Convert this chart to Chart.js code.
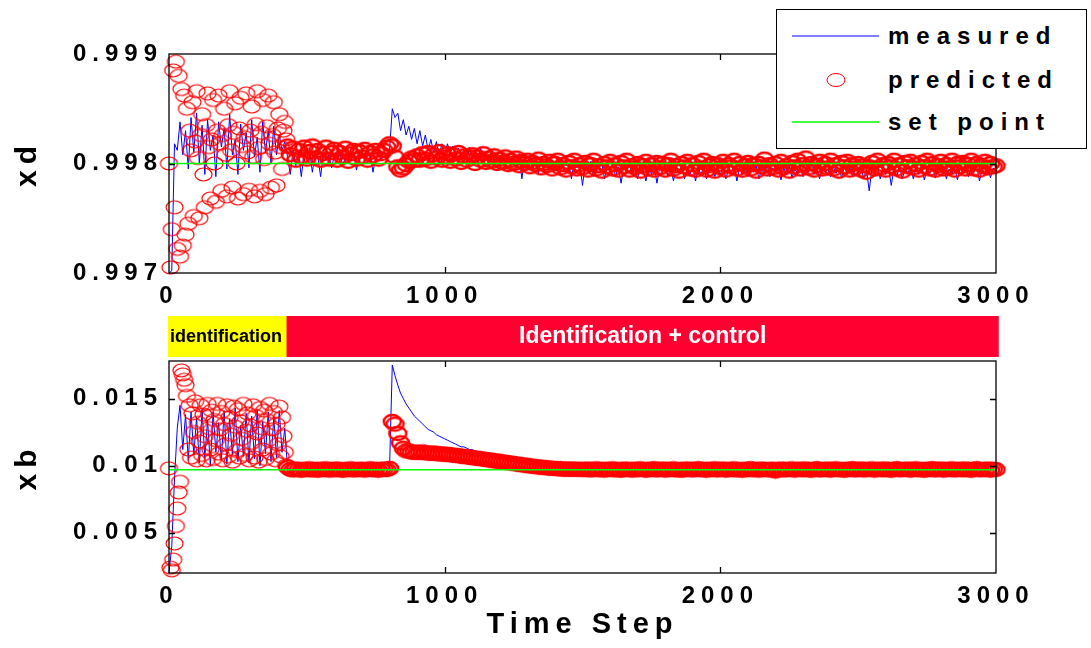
<!DOCTYPE html>
<html><head><meta charset="utf-8">
<script src="https://cdn.jsdelivr.net/npm/chart.js@4/dist/chart.umd.min.js"></script>
<style>
html,body{margin:0;padding:0;background:#fff;}
#wrap{position:relative;width:1091px;height:648px;overflow:hidden;background:#fff;}
#wrap canvas{position:absolute;left:0;top:0;}
#legend{position:absolute;left:776px;top:9px;width:309px;height:138px;border:1.5px solid #000;background:#fff;
 font-family:"Liberation Sans",Arial,sans-serif;font-weight:bold;font-size:24px;letter-spacing:7px;color:#000;}
.lrow{position:absolute;left:0;width:100%;height:30px;}
.lrow svg{position:absolute;left:15px;top:0;}
.lrow span{position:absolute;left:111px;top:0;line-height:30px;}
</style></head>
<body><div id="wrap">
<canvas id="top" width="1091" height="648"></canvas>
<canvas id="bot" width="1091" height="648"></canvas>
<div id="legend">
 <div class="lrow" style="top:11px"><svg width="88" height="30"><line x1="0" y1="15" x2="87" y2="15" stroke="#0000ff" stroke-width="1"/></svg><span>measured</span></div>
 <div class="lrow" style="top:55px"><svg width="88" height="30"><ellipse cx="44" cy="15" rx="9" ry="6.5" fill="none" stroke="#ff0000" stroke-width="1"/></svg><span>predicted</span></div>
 <div class="lrow" style="top:97px"><svg width="88" height="30"><line x1="0" y1="15" x2="87" y2="15" stroke="#44ff44" stroke-width="2"/></svg><span>set point</span></div>
</div>
</div>
<script>
// ---------------- data ----------------
const STEP = 10;        // measured series: one stored sample every 10 time steps, t = 0 .. 3000
const ID_STEP = 5;      // predicted, identification phase: every 5 steps, t = 0 .. 425
const CTRL_START = 430; // predicted, control phase: every 10 steps, t = 430 .. 3000

const xdMeasured = [
0.99700,0.99702,0.99818,0.99812,0.99838,0.99808,0.99830,0.99795,0.99842,0.99810,
0.99846,0.99800,0.99835,0.99790,0.99840,0.99812,0.99826,0.99788,0.99838,0.99815,
0.99832,0.99795,0.99845,0.99808,0.99822,0.99790,0.99836,0.99812,0.99828,0.99796,
0.99840,0.99806,0.99824,0.99792,0.99838,0.99810,0.99830,0.99800,0.99834,0.99808,
0.99826,0.99812,0.99820,0.99806,0.99790,0.99812,0.99798,0.99808,0.99788,0.99810,
0.99804,0.99812,0.99792,0.99808,0.99806,0.99788,0.99810,0.99803,0.99808,0.99796,
0.99808,0.99804,0.99810,0.99798,0.99806,0.99808,0.99802,0.99810,0.99794,0.99806,
0.99808,0.99803,0.99806,0.99810,0.99792,0.99806,0.99808,0.99804,0.99806,0.99805,
0.99812,0.99850,0.99842,0.99846,0.99830,0.99840,0.99826,0.99834,0.99822,0.99832,
0.99818,0.99830,0.99816,0.99826,0.99812,0.99822,0.99810,0.99820,0.99808,0.99818,
0.99806,0.99818,0.99810,0.99816,0.99804,0.99814,0.99808,0.99812,0.99802,0.99815,
0.99806,0.99812,0.99800,0.99814,0.99804,0.99810,0.99798,0.99812,0.99804,0.99808,
0.99800,0.99810,0.99796,0.99808,0.99803,0.99806,0.99798,0.99809,0.99786,0.99804,
0.99802,0.99806,0.99796,0.99804,0.99790,0.99806,0.99800,0.99804,0.99794,0.99802,
0.99798,0.99804,0.99792,0.99802,0.99798,0.99800,0.99786,0.99802,0.99796,0.99800,
0.99780,0.99800,0.99794,0.99802,0.99788,0.99798,0.99796,0.99800,0.99786,0.99798,
0.99794,0.99800,0.99788,0.99797,0.99782,0.99798,0.99792,0.99800,0.99790,0.99796,
0.99786,0.99798,0.99794,0.99784,0.99797,0.99790,0.99798,0.99782,0.99796,0.99792,
0.99798,0.99788,0.99796,0.99784,0.99797,0.99792,0.99798,0.99786,0.99795,0.99790,
0.99798,0.99784,0.99796,0.99790,0.99797,0.99786,0.99794,0.99798,0.99788,0.99796,
0.99790,0.99797,0.99786,0.99795,0.99792,0.99798,0.99784,0.99796,0.99790,0.99797,
0.99788,0.99796,0.99792,0.99798,0.99786,0.99795,0.99790,0.99798,0.99788,0.99796,
0.99792,0.99797,0.99785,0.99796,0.99790,0.99798,0.99787,0.99795,0.99791,0.99797,
0.99788,0.99796,0.99792,0.99805,0.99790,0.99796,0.99786,0.99797,0.99792,0.99795,
0.99788,0.99797,0.99791,0.99796,0.99787,0.99798,0.99790,0.99796,0.99788,0.99795,
0.99792,0.99797,0.99786,0.99795,0.99775,0.99796,0.99790,0.99798,0.99786,0.99795,
0.99790,0.99797,0.99780,0.99796,0.99788,0.99798,0.99786,0.99795,0.99791,0.99797,
0.99786,0.99796,0.99790,0.99798,0.99785,0.99795,0.99791,0.99797,0.99787,0.99796,
0.99792,0.99798,0.99786,0.99795,0.99790,0.99797,0.99785,0.99796,0.99791,0.99797,
0.99788,0.99796,0.99792,0.99798,0.99784,0.99795,0.99790,0.99797,0.99787,0.99796,
0.99792];

const xdPredictedId = [
0.99800,0.99705,0.99740,0.99885,0.99760,0.99893,0.99722,0.99880,0.99715,0.99868,
0.99725,0.99862,0.99735,0.99850,0.99745,0.99830,0.99812,0.99856,0.99752,0.99820,
0.99866,0.99805,0.99750,0.99826,0.99845,0.99790,0.99760,0.99835,0.99864,0.99815,
0.99768,0.99822,0.99858,0.99800,0.99765,0.99830,0.99862,0.99818,0.99775,0.99826,
0.99850,0.99808,0.99770,0.99835,0.99866,0.99812,0.99778,0.99828,0.99855,0.99800,
0.99768,0.99832,0.99860,0.99816,0.99772,0.99824,0.99864,0.99810,0.99776,0.99830,
0.99852,0.99806,0.99770,0.99836,0.99866,0.99814,0.99775,0.99828,0.99858,0.99804,
0.99772,0.99834,0.99862,0.99818,0.99778,0.99826,0.99856,0.99810,0.99780,0.99832,
0.99845,0.99815,0.99795,0.99830,0.99838,0.99822];

const xdPredictedCtrl = [
0.99816,0.99808,0.99814,0.99803,0.99812,0.99806,0.99815,
0.99804,0.99811,0.99816,0.99805,0.99812,0.99803,0.99809,0.99815,0.99804,0.99810,
0.99813,0.99803,0.99810,0.99806,0.99814,0.99802,0.99809,0.99812,0.99804,0.99811,
0.99806,0.99813,0.99803,0.99810,0.99807,0.99812,0.99804,0.99809,0.99812,0.99815,
0.99818,0.99816,0.99806,0.99797,0.99794,0.99796,0.99799,0.99802,0.99805,0.99803,
0.99807,0.99803,0.99809,0.99804,0.99810,0.99802,0.99808,0.99805,0.99811,0.99803,
0.99806,0.99809,0.99802,0.99808,0.99804,0.99810,0.99801,0.99807,0.99803,0.99806,
0.99808,0.99800,0.99806,0.99803,0.99809,0.99801,0.99805,0.99802,0.99807,0.99800,
0.99804,0.99801,0.99806,0.99799,0.99803,0.99800,0.99805,0.99798,0.99802,0.99800,
0.99803,0.99797,0.99801,0.99799,0.99804,0.99796,0.99800,0.99798,0.99802,0.99795,
0.99800,0.99803,0.99796,0.99799,0.99794,0.99801,0.99797,0.99803,0.99795,0.99799,
0.99796,0.99801,0.99794,0.99799,0.99803,0.99795,0.99798,0.99793,0.99800,0.99797,
0.99802,0.99795,0.99799,0.99794,0.99801,0.99797,0.99803,0.99794,0.99798,0.99796,
0.99800,0.99793,0.99798,0.99802,0.99795,0.99799,0.99794,0.99801,0.99796,0.99800,
0.99794,0.99799,0.99803,0.99795,0.99798,0.99793,0.99800,0.99797,0.99802,0.99795,
0.99799,0.99794,0.99801,0.99796,0.99803,0.99794,0.99798,0.99800,0.99793,0.99799,
0.99796,0.99802,0.99794,0.99799,0.99797,0.99803,0.99795,0.99800,0.99794,0.99798,
0.99801,0.99795,0.99799,0.99793,0.99800,0.99797,0.99804,0.99795,0.99799,0.99796,
0.99800,0.99794,0.99802,0.99796,0.99798,0.99793,0.99801,0.99797,0.99803,0.99795,
0.99799,0.99805,0.99796,0.99800,0.99794,0.99798,0.99802,0.99795,0.99800,0.99796,
0.99803,0.99795,0.99799,0.99793,0.99801,0.99797,0.99802,0.99794,0.99799,0.99796,
0.99800,0.99794,0.99798,0.99792,0.99797,0.99801,0.99795,0.99803,0.99796,0.99799,
0.99794,0.99800,0.99797,0.99803,0.99795,0.99799,0.99793,0.99801,0.99797,0.99802,
0.99796,0.99799,0.99794,0.99801,0.99797,0.99803,0.99795,0.99800,0.99794,0.99798,
0.99802,0.99795,0.99799,0.99796,0.99803,0.99794,0.99800,0.99797,0.99801,0.99795,
0.99799,0.99803,0.99795,0.99800,0.99794,0.99798,0.99802,0.99796,0.99800,0.99797,
0.99798];

const xbMeasured = [
0.0020,0.0040,0.0090,0.0128,0.0145,0.0112,0.0138,0.0104,0.0140,0.0108,
0.0136,0.0102,0.0142,0.0106,0.0134,0.0100,0.0140,0.0110,0.0132,0.0104,
0.0141,0.0101,0.0135,0.0108,0.0143,0.0103,0.0130,0.0107,0.0139,0.0102,
0.0137,0.0105,0.0142,0.0100,0.0133,0.0109,0.0140,0.0103,0.0136,0.0106,
0.0141,0.0110,0.0128,0.0098,0.0097,0.0097,0.0097,0.0097,0.0097,0.0097,
0.0097,0.0097,0.0097,0.0097,0.0097,0.0097,0.0097,0.0097,0.0097,0.0097,
0.0097,0.0097,0.0097,0.0097,0.0097,0.0097,0.0097,0.0097,0.0097,0.0097,
0.0097,0.0097,0.0097,0.0097,0.0097,0.0097,0.0097,0.0097,0.0097,0.0097,
0.0098,0.0175,0.0167,0.0160,0.0154,0.0150,0.0146,0.0143,0.0140,0.0137,
0.0135,0.0133,0.0131,0.0129,0.0127,0.0126,0.0125,0.0123,0.0122,0.0121,
0.0120,0.0119,0.0118,0.0117,0.0116,0.0115,0.0114,0.0114,0.0113,0.0112,
0.0112,0.0111,0.0110,0.0110,0.0109,0.0108,0.0108,0.0107,0.0107,0.0106,
0.0106,0.0105,0.0105,0.0104,0.0104,0.0103,0.0103,0.0102,0.0102,0.0102,
0.0101,0.0101,0.0101,0.0100,0.0100,0.0100,0.0100,0.0099,0.0099,0.0099,
0.0099,0.0099,0.0099,0.0098,0.0098,0.0098,0.0098,0.0098,0.0098,0.0098,
0.0098,0.0098,0.0097,0.0098,0.0098,0.0097,0.0098,0.0097,0.0098,0.0097,
0.0097,0.0098,0.0097,0.0097,0.0098,0.0097,0.0097,0.0098,0.0097,0.0097,
0.0097,0.0097,0.0098,0.0097,0.0097,0.0097,0.0098,0.0097,0.0097,0.0097,
0.0098,0.0097,0.0097,0.0097,0.0097,0.0098,0.0097,0.0097,0.0097,0.0097,
0.0097,0.0097,0.0097,0.0098,0.0097,0.0097,0.0097,0.0097,0.0098,0.0097,
0.0097,0.0097,0.0097,0.0097,0.0097,0.0098,0.0097,0.0097,0.0097,0.0097,
0.0098,0.0097,0.0097,0.0097,0.0097,0.0097,0.0097,0.0098,0.0097,0.0097,
0.0097,0.0097,0.0097,0.0097,0.0098,0.0097,0.0097,0.0097,0.0097,0.0097,
0.0097,0.0098,0.0097,0.0097,0.0097,0.0097,0.0097,0.0097,0.0098,0.0097,
0.0097,0.0097,0.0097,0.0098,0.0097,0.0097,0.0097,0.0097,0.0097,0.0097,
0.0098,0.0097,0.0097,0.0097,0.0097,0.0097,0.0098,0.0097,0.0097,0.0097,
0.0097,0.0097,0.0098,0.0097,0.0097,0.0097,0.0097,0.0097,0.0097,0.0098,
0.0097,0.0097,0.0097,0.0097,0.0098,0.0097,0.0097,0.0097,0.0097,0.0097,
0.0097,0.0098,0.0097,0.0097,0.0097,0.0097,0.0097,0.0098,0.0097,0.0097,
0.0097,0.0097,0.0097,0.0098,0.0097,0.0097,0.0097,0.0097,0.0097,0.0097,
0.0097];

const xbPredictedId = [
0.0098,0.0024,0.0022,0.0030,0.0042,0.0055,0.0068,0.0080,0.0088,0.0171,
0.0168,0.0164,0.0160,0.0152,0.0112,0.0145,0.0106,0.0139,0.0125,0.0148,
0.0104,0.0132,0.0118,0.0145,0.0108,0.0138,0.0122,0.0104,0.0146,0.0128,
0.0112,0.0141,0.0105,0.0134,0.0119,0.0146,0.0109,0.0127,0.0140,0.0104,
0.0131,0.0116,0.0145,0.0107,0.0136,0.0123,0.0103,0.0144,0.0129,0.0111,
0.0142,0.0106,0.0133,0.0120,0.0146,0.0108,0.0126,0.0139,0.0104,0.0130,
0.0117,0.0145,0.0106,0.0137,0.0124,0.0103,0.0143,0.0128,0.0112,0.0141,
0.0105,0.0134,0.0119,0.0146,0.0109,0.0127,0.0140,0.0104,0.0131,0.0116,
0.0144,0.0107,0.0136,0.0122,0.0110,0.0100];

const xbPredictedCtrl = [
0.00990,0.00972,0.00968,0.00975,0.00970,0.00966,0.00974,
0.00970,0.00976,0.00968,0.00972,0.00966,0.00974,0.00970,0.00976,0.00967,0.00972,
0.00969,0.00975,0.00970,0.00966,0.00973,0.00970,0.00976,0.00968,0.00972,0.00970,
0.00974,0.00967,0.00972,0.00976,0.00969,0.00973,0.00966,0.00972,0.00975,0.00970,
0.00980,0.01330,0.01310,0.01240,0.01170,0.01130,0.01110,0.01110,0.01100,0.01100,
0.01100,0.01098,0.01102,0.01096,0.01094,0.01092,0.01094,0.01090,0.01088,0.01086,
0.01086,0.01083,0.01082,0.01078,0.01076,0.01074,0.01070,0.01068,0.01066,0.01062,
0.01060,0.01057,0.01054,0.01052,0.01048,0.01046,0.01042,0.01040,0.01036,0.01034,
0.01030,0.01028,0.01024,0.01022,0.01018,0.01016,0.01012,0.01010,0.01006,0.01004,
0.01000,0.00998,0.00995,0.00993,0.00990,0.00988,0.00986,0.00984,0.00982,0.00980,
0.00979,0.00977,0.00976,0.00975,0.00974,0.00973,0.00975,0.00972,0.00974,0.00971,
0.00973,0.00970,0.00975,0.00968,0.00972,0.00976,0.00969,0.00973,0.00967,0.00974,
0.00970,0.00976,0.00968,0.00972,0.00966,0.00975,0.00970,0.00973,0.00967,0.00974,
0.00969,0.00976,0.00971,0.00966,0.00974,0.00970,0.00977,0.00968,0.00972,0.00975,
0.00967,0.00973,0.00970,0.00976,0.00968,0.00972,0.00966,0.00975,0.00970,0.00974,
0.00968,0.00972,0.00977,0.00969,0.00973,0.00966,0.00974,0.00970,0.00976,0.00968,
0.00972,0.00975,0.00967,0.00973,0.00970,0.00976,0.00968,0.00972,0.00966,0.00974,
0.00970,0.00977,0.00969,0.00973,0.00967,0.00975,0.00970,0.00972,0.00968,0.00974,
0.00960,0.00970,0.00975,0.00968,0.00973,0.00970,0.00976,0.00967,0.00972,0.00974,
0.00969,0.00975,0.00970,0.00966,0.00973,0.00977,0.00968,0.00972,0.00970,0.00975,
0.00967,0.00973,0.00976,0.00969,0.00972,0.00966,0.00974,0.00970,0.00977,0.00968,
0.00972,0.00975,0.00968,0.00973,0.00970,0.00976,0.00967,0.00972,0.00974,0.00969,
0.00975,0.00970,0.00966,0.00973,0.00977,0.00969,0.00972,0.00970,0.00975,0.00967,
0.00973,0.00976,0.00969,0.00972,0.00966,0.00974,0.00970,0.00977,0.00968,0.00972,
0.00975,0.00967,0.00973,0.00970,0.00976,0.00968,0.00972,0.00974,0.00969,0.00975,
0.00970,0.00966,0.00973,0.00977,0.00969,0.00972,0.00970,0.00975,0.00967,0.00973,
0.00971];

const setPointT   = [0, 3000];
const xdSetPoint  = [0.998, 0.998];
const xbSetPoint  = [0.0097, 0.0097];

const xTickValues  = [0, 1000, 2000, 3000];
const xTickLabels  = ['0', '1000', '2000', '3000'];
const xdTickValues = [0.997, 0.998, 0.999];
const xdTickLabels = ['0.997', '0.998', '0.999'];
const xbTickValues = [0.005, 0.01, 0.015];
const xbTickLabels = ['0.005', '0.01', '0.015'];

const phaseNames  = ['identification', 'Identification + control'];
const phaseStart  = [0, 430];
const phaseEnd    = [430, 3010];

// ---------------- helpers ----------------
const FONT = '"Liberation Sans", Arial, sans-serif';
Chart.defaults.color = '#000';
Chart.defaults.font.family = FONT;
Chart.defaults.font.weight = 'bold';

function toXY(values, start, step) { return values.map((v, i) => ({ x: start + i * step, y: v })); }
function pairXY(xs, ys) { return xs.map((x, i) => ({ x: x, y: ys[i] })); }

function ellipseMarker(w, h, color, lw) {
  const c = document.createElement('canvas');
  c.width = w + 4; c.height = h + 4;
  const g = c.getContext('2d');
  g.strokeStyle = color; g.lineWidth = lw;
  g.beginPath();
  g.ellipse(c.width / 2, c.height / 2, w / 2, h / 2, 0, 0, Math.PI * 2);
  g.stroke();
  return c;
}
// samples in the dense control phase stand for ten overlapping markers each, so their outline is heavier
const markerThin = ellipseMarker(17, 13, '#ff0000', 1.2);
const markerDense = ellipseMarker(17, 13, '#ff0000', 2.4);

const spacingPlugin = {
  id: 'spacing',
  beforeUpdate(c) { c.ctx.letterSpacing = '6px'; },
  beforeLayout(c) { c.ctx.letterSpacing = '6px'; },
  beforeDraw(c) { c.ctx.letterSpacing = '6px'; }
};

const boxPlugin = {
  id: 'box',
  afterDraw(chart) {
    const { ctx, chartArea: a, scales } = chart;
    const x = scales.x, y = scales.y;
    ctx.save();
    ctx.strokeStyle = '#000';
    ctx.lineWidth = 1.3;
    ctx.strokeRect(a.left, a.top, a.width, a.height);
    const L = 6;
    ctx.beginPath();
    x.ticks.forEach(t => {
      if (t.value <= x.min || t.value >= x.max) return;
      const px = Math.round(x.getPixelForValue(t.value)) + 0.5;
      ctx.moveTo(px, a.bottom); ctx.lineTo(px, a.bottom - L);
      ctx.moveTo(px, a.top); ctx.lineTo(px, a.top + L);
    });
    y.ticks.forEach(t => {
      if (t.value <= y.min || t.value >= y.max) return;
      const py = Math.round(y.getPixelForValue(t.value)) + 0.5;
      ctx.moveTo(a.left, py); ctx.lineTo(a.left + L, py);
      ctx.moveTo(a.right, py); ctx.lineTo(a.right - L, py);
    });
    ctx.stroke();
    ctx.restore();
  }
};

const phasePlugin = {
  id: 'phases',
  afterDraw(chart) {
    const { ctx, chartArea: a, scales: { x } } = chart;
    const top = a.top - 45, h = 41;
    const colors = ['#ffff00', '#ff0030'];
    const textColors = ['#000', '#fff'];
    ctx.save();
    ctx.letterSpacing = '0px';
    phaseNames.forEach((name, i) => {
      const x0 = x.getPixelForValue(phaseStart[i]) - 1;
      const x1 = x.getPixelForValue(phaseEnd[i]);
      ctx.fillStyle = colors[i];
      ctx.fillRect(x0, top, x1 - x0, h);
      ctx.fillStyle = textColors[i];
      ctx.textBaseline = 'middle';
      if (i === 0) {
        ctx.font = 'bold 18px ' + FONT;
        ctx.textAlign = 'left';
        ctx.fillText(name, x0 + 2, top + h / 2 + 1);
      } else {
        ctx.font = 'bold 23px ' + FONT;
        ctx.textAlign = 'center';
        ctx.fillText(name, (x0 + x1) / 2, top + h / 2);
      }
    });
    ctx.restore();
  }
};

function makeChart(id, cfg) {
  const xAxisH = cfg.xTitle ? 75 : 40;
  const predicted = toXY(cfg.predId, 0, ID_STEP).concat(toXY(cfg.predCtrl, CTRL_START, STEP));
  return new Chart(document.getElementById(id), {
    type: 'line',
    data: {
      datasets: [
        { label: 'set point', data: pairXY(setPointT, cfg.set), borderColor: '#00ff00', borderWidth: 1.5,
          pointRadius: 0, order: 0, clip: false },
        { label: 'predicted', data: predicted, showLine: false,
          pointStyle: c => (c.raw && c.raw.x >= CTRL_START ? markerDense : markerThin), pointRadius: 1,
          pointHitRadius: 0, borderColor: '#ff0000', backgroundColor: 'rgba(0,0,0,0)', order: 1, clip: false },
        { label: 'measured', data: toXY(cfg.meas, 0, STEP), borderColor: '#0000ff', borderWidth: 1,
          pointRadius: 0, order: 2, clip: false }
      ]
    },
    options: {
      responsive: false,
      animation: false,
      events: [],
      layout: { padding: { top: cfg.top, left: 0, right: 95, bottom: 648 - cfg.bottom - xAxisH } },
      plugins: { legend: { display: false }, tooltip: { enabled: false } },
      scales: {
        x: {
          type: 'linear', min: 0, max: 3000,
          grid: { display: false, drawTicks: false },
          border: { display: false },
          afterBuildTicks: s => { s.ticks = xTickValues.map(v => ({ value: v })); },
          afterFit: s => { s.height = xAxisH; },
          ticks: { padding: 9, font: { size: 24, weight: 'bold' }, maxRotation: 0, autoSkip: false,
                   callback: v => xTickLabels[xTickValues.indexOf(v)] },
          title: cfg.xTitle ? { display: true, text: cfg.xTitle, font: { size: 29, weight: 'bold' },
                   padding: { top: 6, bottom: 6 } } : { display: false }
        },
        y: {
          type: 'linear', min: cfg.ymin, max: cfg.ymax,
          grid: { display: false, drawTicks: false },
          border: { display: false },
          afterBuildTicks: s => { s.ticks = cfg.yTicks.map(v => ({ value: v })); },
          afterFit: s => { s.width = 169; },
          ticks: { padding: 6, font: { size: 24, weight: 'bold' }, autoSkip: false,
                   callback: v => cfg.yLabels[cfg.yTicks.indexOf(v)] },
          title: { display: true, text: cfg.yTitle, font: { size: 30, weight: 'bold' }, padding: { top: 10, bottom: 0 } }
        }
      }
    },
    plugins: [spacingPlugin, boxPlugin].concat(cfg.extra || [])
  });
}

makeChart('top', {
  top: 54, bottom: 273, ymin: 0.997, ymax: 0.999,
  yTicks: xdTickValues, yLabels: xdTickLabels, yTitle: 'xd',
  meas: xdMeasured, predId: xdPredictedId, predCtrl: xdPredictedCtrl, set: xdSetPoint
});
makeChart('bot', {
  top: 361, bottom: 573, ymin: 0.002, ymax: 0.0178,
  yTicks: xbTickValues, yLabels: xbTickLabels, yTitle: 'xb', xTitle: 'Time Step',
  meas: xbMeasured, predId: xbPredictedId, predCtrl: xbPredictedCtrl, set: xbSetPoint, extra: [phasePlugin]
});
</script>
</body></html>
